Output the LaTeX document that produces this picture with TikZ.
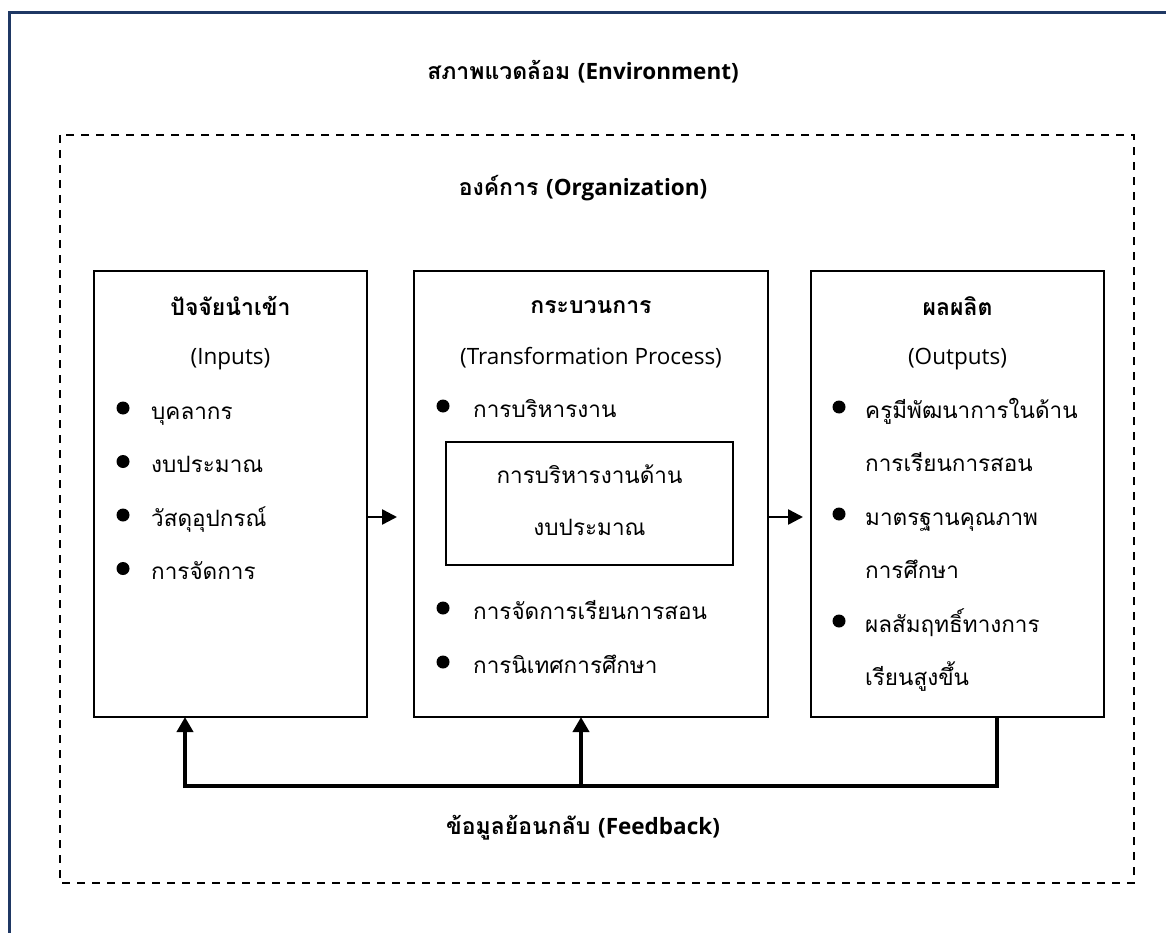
\documentclass[tikz,border=0pt]{standalone}
\usepackage{fontspec}
\setmainfont[Script=Thai]{Loma}
\newfontfamily\lat{Open Sans}
\usetikzlibrary{arrows.meta}
\definecolor{frameblue}{RGB}{31,56,100}
\newcommand\en[1]{{\lat\fontsize{22.5}{27}\selectfont #1}}
\newcommand\enb[1]{{\lat\bfseries\fontsize{22.5}{27}\selectfont #1}}
\tikzset{
  boxframe/.style={draw=black, line width=2pt, minimum width=#1, inner sep=0pt, outer sep=0pt},
  txt/.style={anchor=base, inner sep=0pt, font=\fontsize{22.5}{27}\selectfont},
  ttl/.style={anchor=base, inner sep=0pt, font=\fontsize{23}{27}\selectfont\bfseries},
  item/.style={anchor=base west, inner sep=0pt, font=\fontsize{22.5}{27}\selectfont},
  dot/.style={circle, fill=black, minimum size=13pt, inner sep=0pt},
  flow/.style={line width=2.5pt, -{Triangle[length=15pt, width=15pt]}},
  fb/.style={line width=4pt, line join=miter},
  fbarrow/.style={line width=4pt, -{Triangle[length=15pt, width=16pt]}},
  orgline/.style={line width=2pt, dash pattern=on 8pt off 7pt}
}
\begin{document}
\begin{tikzpicture}[x=1pt, y=-1pt]
\useasboundingbox (0,0) rectangle (1166,933);

% environment frame, running past the page on the right and bottom
\draw[frameblue, line width=3pt] (9,945) -- (9,13) -- (1175,13);
\node[ttl] (env) at (583,80) {สภาพแวดล้อม \enb{(Environment)}};

% organization boundary
\draw[orgline] (60,135) rectangle (1134,883);
\node[ttl] (org) at (583,196) {องค์การ \enb{(Organization)}};

% the three system boxes
\node[boxframe=273pt, minimum height=446pt] (in) at (230.5,494) {};
\node[boxframe=354pt, minimum height=446pt] (proc) at (591,494) {};
\node[boxframe=293pt, minimum height=446pt] (out) at (957.5,494) {};

% inputs
\node[ttl] (inT) at (230.5,315) {ปัจจัยนำเข้า};
\node[txt] (inS) at (230.5,364) {\en{(Inputs)}};
\foreach \t [count=\i] in {บุคลากร, งบประมาณ, วัสดุอุปกรณ์, การจัดการ}{
  \node[dot] (inD\i) at (123,{419-11+(\i-1)*53.5}) {};
  \node[item] (inI\i) at (151,{419+(\i-1)*53.5}) {\t};
}

% transformation process
\node[ttl] (prT) at (591,313) {กระบวนการ};
\node[txt] (prS) at (591,364) {\en{(Transformation Process)}};
\node[dot] (prD1) at (443,406) {};
\node[item] (prI1) at (473,417) {การบริหารงาน};
\node[boxframe=287pt, minimum height=123pt] (budget) at (589.5,503.5) {};
\node[txt] (bud1) at (589.5,483) {การบริหารงานด้าน};
\node[txt] (bud2) at (589.5,535) {งบประมาณ};
\node[dot] (prD2) at (443,608) {};
\node[item] (prI2) at (473,619) {การจัดการเรียนการสอน};
\node[dot] (prD3) at (443,662) {};
\node[item] (prI3) at (473,673) {การนิเทศการศึกษา};

% outputs
\node[ttl] (ouT) at (957.5,315) {ผลผลิต};
\node[txt] (ouS) at (957.5,364) {\en{(Outputs)}};
\node[dot] (ouD1) at (839,407) {};
\node[item] (ouI1) at (865,418) {ครูมีพัฒนาการในด้าน};
\node[item] (ouI1b) at (865,471.5) {การเรียนการสอน};
\node[dot] (ouD2) at (839,514) {};
\node[item] (ouI2) at (865,525) {มาตรฐานคุณภาพ};
\node[item] (ouI2b) at (865,578.5) {การศึกษา};
\node[dot] (ouD3) at (839,621) {};
\node[item] (ouI3) at (865,632) {ผลสัมฤทธิ์ทางการ};
\node[item] (ouI3b) at (865,685.5) {เรียนสูงขึ้น};

% forward flow
\coordinate (a1) at (397,517);
\coordinate (a2) at (803,517);
\draw[flow] (in.east |- a1) -- (a1);
\draw[flow] (proc.east |- a2) -- (a2);

% feedback loop
\coordinate (fbL) at (185,786);
\coordinate (fbM) at (581,786);
\coordinate (fbR) at (997,786);
\draw[fb] (out.south -| fbR) -- (fbR) -- (fbL);
\draw[fbarrow] ([yshift=-2pt]fbL) -- (in.south -| fbL);
\draw[fbarrow] (fbM) -- (proc.south -| fbM);
\node[ttl] (fbT) at (583,834) {ข้อมูลย้อนกลับ \enb{(Feedback)}};
\end{tikzpicture}
\end{document}
